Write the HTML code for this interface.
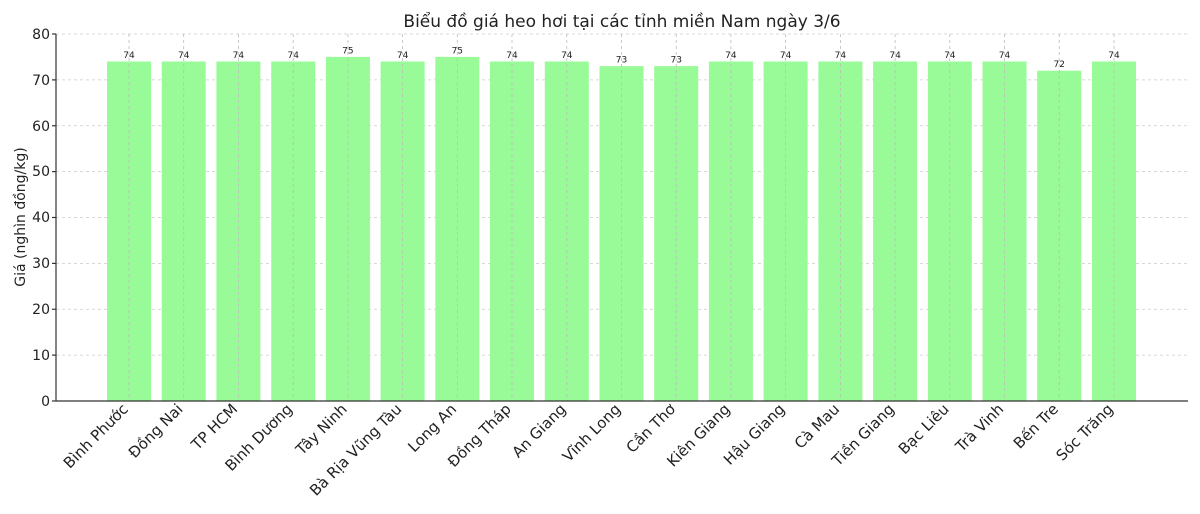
<!DOCTYPE html>
<html><head><meta charset="utf-8"><style>body{margin:0;background:#fff}svg{display:block}text{font-family:"DejaVu Sans","Liberation Sans",sans-serif;fill:#222}</style></head>
<body>
<svg width="1200" height="514" xmlns="http://www.w3.org/2000/svg">
<text x="622" y="27" font-size="17" text-anchor="middle">Biểu đồ giá heo hơi tại các tỉnh miền Nam ngày 3/6</text>
<g stroke="#ccc" stroke-dasharray="3,3" stroke-width="0.8">
<line x1="56" x2="1188" y1="355.1" y2="355.1"/><line x1="56" x2="1188" y1="309.25" y2="309.25"/><line x1="56" x2="1188" y1="263.4" y2="263.4"/><line x1="56" x2="1188" y1="217.5" y2="217.5"/><line x1="56" x2="1188" y1="171.6" y2="171.6"/><line x1="56" x2="1188" y1="125.75" y2="125.75"/><line x1="56" x2="1188" y1="79.9" y2="79.9"/><line x1="56" x2="1188" y1="34" y2="34"/>
</g>
<g fill="#98fb98">
<rect x="107" y="61.5" width="44" height="339.5"/><rect x="161.7" y="61.5" width="44" height="339.5"/><rect x="216.4" y="61.5" width="44" height="339.5"/><rect x="271.2" y="61.5" width="44" height="339.5"/><rect x="325.9" y="56.9" width="44" height="344.1"/><rect x="380.6" y="61.5" width="44" height="339.5"/><rect x="435.3" y="56.9" width="44" height="344.1"/><rect x="490" y="61.5" width="44" height="339.5"/><rect x="544.8" y="61.5" width="44" height="339.5"/><rect x="599.5" y="66.1" width="44" height="334.9"/><rect x="654.2" y="66.1" width="44" height="334.9"/><rect x="708.9" y="61.5" width="44" height="339.5"/><rect x="763.6" y="61.5" width="44" height="339.5"/><rect x="818.4" y="61.5" width="44" height="339.5"/><rect x="873.1" y="61.5" width="44" height="339.5"/><rect x="927.8" y="61.5" width="44" height="339.5"/><rect x="982.5" y="61.5" width="44" height="339.5"/><rect x="1037.2" y="70.7" width="44" height="330.3"/><rect x="1092" y="61.5" width="44" height="339.5"/>
</g>
<g stroke="#bbb" stroke-dasharray="3,3" stroke-width="0.8">
<line x1="129" x2="129" y1="34" y2="401"/><line x1="183.7" x2="183.7" y1="34" y2="401"/><line x1="238.4" x2="238.4" y1="34" y2="401"/><line x1="293.2" x2="293.2" y1="34" y2="401"/><line x1="347.9" x2="347.9" y1="34" y2="401"/><line x1="402.6" x2="402.6" y1="34" y2="401"/><line x1="457.3" x2="457.3" y1="34" y2="401"/><line x1="512" x2="512" y1="34" y2="401"/><line x1="566.8" x2="566.8" y1="34" y2="401"/><line x1="621.5" x2="621.5" y1="34" y2="401"/><line x1="676.2" x2="676.2" y1="34" y2="401"/><line x1="730.9" x2="730.9" y1="34" y2="401"/><line x1="785.6" x2="785.6" y1="34" y2="401"/><line x1="840.4" x2="840.4" y1="34" y2="401"/><line x1="895.1" x2="895.1" y1="34" y2="401"/><line x1="949.8" x2="949.8" y1="34" y2="401"/><line x1="1004.5" x2="1004.5" y1="34" y2="401"/><line x1="1059.2" x2="1059.2" y1="34" y2="401"/><line x1="1114" x2="1114" y1="34" y2="401"/>
</g>
<g font-size="9" text-anchor="middle">
<text x="129" y="58">74</text><text x="183.7" y="58">74</text><text x="238.4" y="58">74</text><text x="293.2" y="58">74</text><text x="347.9" y="53.4">75</text><text x="402.6" y="58">74</text><text x="457.3" y="53.4">75</text><text x="512" y="58">74</text><text x="566.8" y="58">74</text><text x="621.5" y="62.6">73</text><text x="676.2" y="62.6">73</text><text x="730.9" y="58">74</text><text x="785.6" y="58">74</text><text x="840.4" y="58">74</text><text x="895.1" y="58">74</text><text x="949.8" y="58">74</text><text x="1004.5" y="58">74</text><text x="1059.2" y="67.2">72</text><text x="1114" y="58">74</text>
</g>
<g stroke="#333" stroke-width="1.2">
<line x1="56" x2="56" y1="34" y2="401"/><line x1="56" x2="1188" y1="401" y2="401"/>
<line x1="52" x2="56" y1="401" y2="401"/><line x1="52" x2="56" y1="355.1" y2="355.1"/><line x1="52" x2="56" y1="309.25" y2="309.25"/><line x1="52" x2="56" y1="263.4" y2="263.4"/><line x1="52" x2="56" y1="217.5" y2="217.5"/><line x1="52" x2="56" y1="171.6" y2="171.6"/><line x1="52" x2="56" y1="125.75" y2="125.75"/><line x1="52" x2="56" y1="79.9" y2="79.9"/><line x1="52" x2="56" y1="34" y2="34"/>
</g>
<g font-size="14" text-anchor="end">
<text x="50" y="406">0</text><text x="50" y="360">10</text><text x="50" y="314">20</text><text x="50" y="268">30</text><text x="50" y="222">40</text><text x="50" y="176">50</text><text x="50" y="131">60</text><text x="50" y="85">70</text><text x="50" y="39">80</text>
</g>
<text transform="translate(25,217) rotate(-90)" font-size="14" text-anchor="middle">Giá (nghìn đồng/kg)</text>
<g font-size="15" text-anchor="end">
<text transform="translate(129,410) rotate(-45)">Bình Phước</text>
<text transform="translate(183.7,410) rotate(-45)">Đồng Nai</text>
<text transform="translate(238.4,410) rotate(-45)">TP HCM</text>
<text transform="translate(293.2,410) rotate(-45)">Bình Dương</text>
<text transform="translate(347.9,410) rotate(-45)">Tây Ninh</text>
<text transform="translate(402.6,410) rotate(-45)">Bà Rịa  Vũng Tàu</text>
<text transform="translate(457.3,410) rotate(-45)">Long An</text>
<text transform="translate(512,410) rotate(-45)">Đồng Tháp</text>
<text transform="translate(566.8,410) rotate(-45)">An Giang</text>
<text transform="translate(621.5,410) rotate(-45)">Vĩnh Long</text>
<text transform="translate(676.2,410) rotate(-45)">Cần Thơ</text>
<text transform="translate(730.9,410) rotate(-45)">Kiên Giang</text>
<text transform="translate(785.6,410) rotate(-45)">Hậu Giang</text>
<text transform="translate(840.4,410) rotate(-45)">Cà Mau</text>
<text transform="translate(895.1,410) rotate(-45)">Tiền Giang</text>
<text transform="translate(949.8,410) rotate(-45)">Bạc Liêu</text>
<text transform="translate(1004.5,410) rotate(-45)">Trà Vinh</text>
<text transform="translate(1059.2,410) rotate(-45)">Bến Tre</text>
<text transform="translate(1114,410) rotate(-45)">Sóc Trăng</text>
</g>
</svg>
</body></html>
